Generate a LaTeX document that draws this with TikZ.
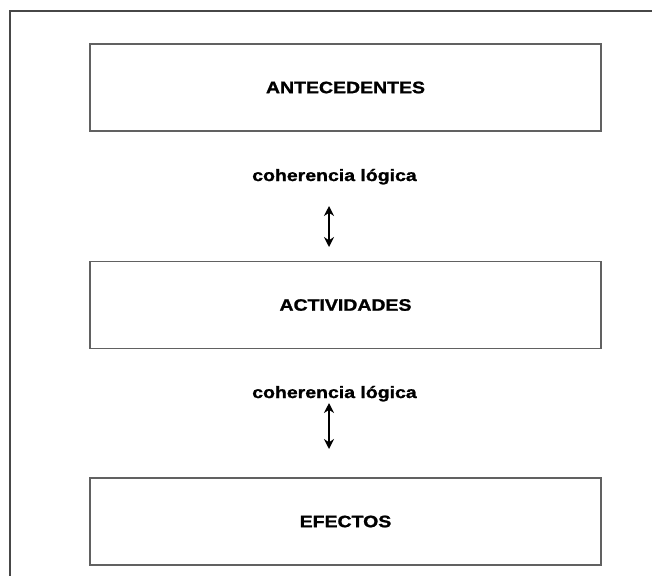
\documentclass[tikz,border=0pt]{standalone}
\usepackage{fontspec}
\setmainfont{Liberation Sans}
\newfontfamily\heavy{Liberation Sans Bold}[FakeBold=1.2]
\usetikzlibrary{arrows.meta}
\newcommand{\wide}[1]{\scalebox{1.18}[1]{#1}}
\begin{document}
\begin{tikzpicture}[x=1pt,y=-1pt,
  framebox/.style={draw=black!62,line width=1.3pt,rectangle,minimum width=511pt,minimum height=87pt,inner sep=0pt,
    font=\fontsize{16.5}{19}\heavy},
  lbl/.style={inner sep=0pt,font=\fontsize{16.5}{19}\heavy},
  dbl/.style={line width=2.3pt,{Stealth[length=10pt,width=10pt]}-{Stealth[length=10pt,width=10pt]}}]
\useasboundingbox (0,0) rectangle (652,576);
\draw[black!72,line width=1.1pt] (652,11) -- (10,11) -- (10,576);
\node[framebox] (ant) at (345.5,87.5) {\wide{ANTECEDENTES}};
\node[framebox] (act) at (345.5,305) {\wide{ACTIVIDADES}};
\node[framebox] (efe) at (345.5,521.5) {\wide{EFECTOS}};
\node[lbl,anchor=base] (c1) at (334.5,181) {\wide{coherencia lógica}};
\node[lbl,anchor=base] (c2) at (334.5,398) {\wide{coherencia lógica}};
\coordinate (a1t) at (329,206);
\coordinate (a1b) at (329,247);
\coordinate (a2t) at (329,403);
\coordinate (a2b) at (329,449);
\draw[dbl] (a1t) -- (a1b);
\draw[dbl] (a2t) -- (a2b);
\end{tikzpicture}
\end{document}
